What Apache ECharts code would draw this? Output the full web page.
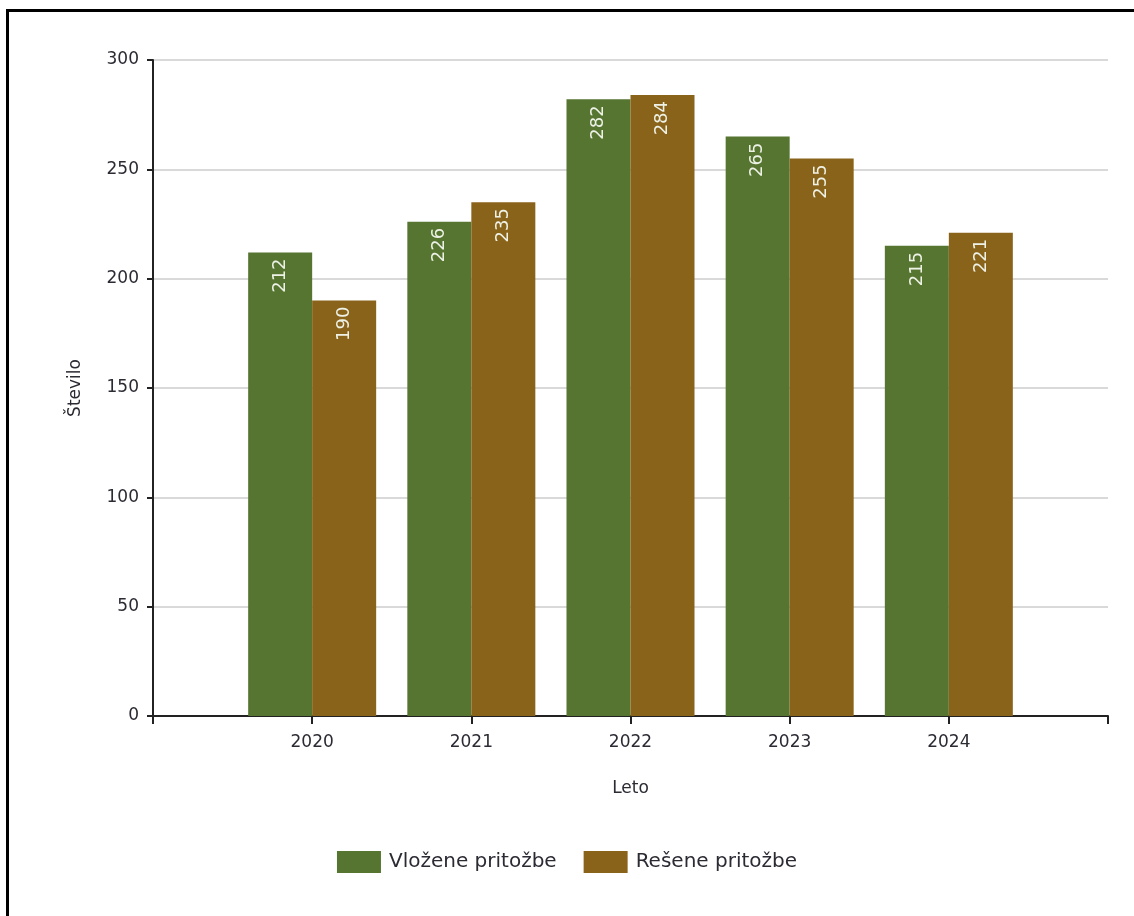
<!DOCTYPE html>
<html>
<head>
<meta charset="utf-8">
<script src="https://cdn.jsdelivr.net/npm/echarts@6/dist/echarts.min.js"></script>
<style>
  html, body { margin: 0; padding: 0; background: #fff; }
  #frame { position: absolute; left: 6px; top: 9px; width: 1128px; height: 907px;
           border-top: 3px solid #000; border-left: 3px solid #000; box-sizing: border-box; }
  #chart { position: absolute; left: 0; top: 0; width: 1134px; height: 916px; }
</style>
</head>
<body>
<div id="frame"></div>
<div id="chart"></div>
<script>
// leta in vrednosti
var years = [2020, 2021, 2022, 2023, 2024];
var vlozene = [212, 226, 282, 265, 215];
var resene = [190, 235, 284, 255, 221];
var seriesNames = ['Vložene pritožbe', 'Rešene pritožbe'];

var font = 'DejaVu Sans';
var txt = '#2b2b33';

function pairs(vals) {
    return years.map(function (y, i) { return [y, vals[i]]; });
}

var labelOpt = {
    show: true,
    position: 'insideTop',
    rotate: 90,
    align: 'right',
    verticalAlign: 'middle',
    distance: 6,
    color: '#eef2e6',
    fontFamily: font,
    fontSize: 18
};

var chart = echarts.init(document.getElementById('chart'));
var option = {
    animation: false,
    textStyle: { fontFamily: font },
    grid: { left: 153, right: 26, top: 60, bottom: 200 },
    xAxis: {
        type: 'value',
        min: 2019,
        max: 2025,
        interval: 1,
        name: 'Leto',
        nameLocation: 'middle',
        nameGap: 64,
        nameTextStyle: { color: txt, fontSize: 17, fontFamily: font },
        axisLine: { show: true, lineStyle: { color: '#222', width: 2 } },
        axisTick: { show: true, length: 8, lineStyle: { color: '#222', width: 2 } },
        axisLabel: {
            color: txt, fontSize: 17, fontFamily: font, margin: 18,
            formatter: function (v) { return (v < 2020 || v > 2024) ? '' : String(v); }
        },
        splitLine: { show: false }
    },
    yAxis: {
        type: 'value',
        min: 0,
        max: 300,
        interval: 50,
        name: 'Število',
        nameLocation: 'middle',
        nameGap: 69,
        nameTextStyle: { color: txt, fontSize: 17, fontFamily: font },
        axisLine: { show: true, lineStyle: { color: '#222', width: 2 } },
        axisTick: { show: true, length: 6, lineStyle: { color: '#222', width: 2 } },
        axisLabel: { color: txt, fontSize: 17, fontFamily: font, margin: 14 },
        splitLine: { show: true, lineStyle: { color: '#d9d9d9', width: 2 } }
    },
    legend: {
        top: 846,
        left: 'center',
        icon: 'rect',
        itemWidth: 44,
        itemHeight: 22,
        itemGap: 27,
        textStyle: { color: txt, fontSize: 20, fontFamily: font, padding: [0, 0, 0, 3] },
        data: seriesNames
    },
    series: [
        {
            name: seriesNames[0],
            type: 'bar',
            data: pairs(vlozene),
            barWidth: 64,
            barGap: '0%',
            itemStyle: { color: '#557531' },
            label: labelOpt
        },
        {
            name: seriesNames[1],
            type: 'bar',
            data: pairs(resene),
            barWidth: 64,
            barGap: '0%',
            itemStyle: { color: '#8a631b' },
            label: labelOpt
        }
    ]
};
chart.setOption(option);
</script>
</body>
</html>
